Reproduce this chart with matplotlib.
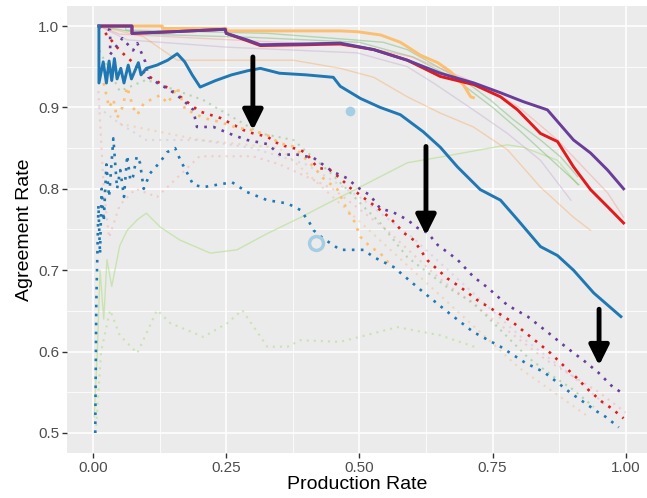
import matplotlib
matplotlib.use("Agg")
import matplotlib.pyplot as plt
from matplotlib.ticker import FixedLocator

plt.rcParams['font.family'] = ['Liberation Sans', 'DejaVu Sans']

# ---------------- data ----------------
x_ticks = [0.0, 0.25, 0.5, 0.75, 1.0]
x_tick_labels = ["0.00", "0.25", "0.50", "0.75", "1.00"]
y_ticks = [0.5, 0.6, 0.7, 0.8, 0.9, 1.0]
y_tick_labels = ["0.5", "0.6", "0.7", "0.8", "0.9", "1.0"]

# highlighted solid lines
blue_solid_x = [0.011, 0.011, 0.019, 0.025, 0.03, 0.035, 0.04, 0.045, 0.052, 0.058, 0.066, 0.072,
                0.085, 0.09, 0.1, 0.12, 0.14, 0.158, 0.172, 0.186, 0.201, 0.23, 0.26, 0.29, 0.314,
                0.35, 0.4, 0.451, 0.464, 0.502, 0.539, 0.577, 0.62, 0.652, 0.684, 0.727, 0.765,
                0.797, 0.84, 0.872, 0.902, 0.94, 0.991]
blue_solid_y = [1.0, 0.93, 0.956, 0.93, 0.957, 0.933, 0.96, 0.935, 0.948, 0.93, 0.952, 0.935,
                0.955, 0.94, 0.948, 0.952, 0.958, 0.966, 0.956, 0.94, 0.925, 0.933, 0.94, 0.945, 0.948,
                0.942, 0.94, 0.937, 0.926, 0.911, 0.90, 0.891, 0.87, 0.851, 0.827, 0.799, 0.786,
                0.762, 0.729, 0.718, 0.70, 0.672, 0.643]

purple_solid_x = [0.011, 0.073, 0.073, 0.15, 0.248, 0.25, 0.289, 0.314, 0.4, 0.464, 0.527, 0.59,
                  0.652, 0.715, 0.765, 0.808, 0.853, 0.902, 0.934, 0.966, 0.996]
purple_solid_y = [1.0, 1.0, 0.991, 0.993, 0.996, 0.991, 0.983, 0.977, 0.978, 0.979, 0.971, 0.958,
                  0.942, 0.930, 0.918, 0.907, 0.897, 0.860, 0.844, 0.823, 0.80]

red_solid_x = [0.011, 0.073, 0.073, 0.15, 0.248, 0.25, 0.289, 0.314, 0.4, 0.464, 0.527, 0.59,
               0.652, 0.715, 0.765, 0.797, 0.84, 0.872, 0.902, 0.934, 0.966, 0.996]
red_solid_y = [1.0, 1.0, 0.991, 0.993, 0.996, 0.991, 0.982, 0.976, 0.977, 0.978, 0.971, 0.958,
               0.938, 0.928, 0.913, 0.897, 0.868, 0.858, 0.827, 0.799, 0.778, 0.758]

orange_solid_x = [0.011, 0.13, 0.13, 0.25, 0.25, 0.464, 0.496, 0.54, 0.577, 0.615, 0.647, 0.671,
                  0.695, 0.709, 0.714]
orange_solid_y = [1.0, 1.0, 0.997, 0.997, 0.994, 0.994, 0.993, 0.989, 0.98, 0.964, 0.955, 0.944,
                  0.928, 0.913, 0.912]

# highlighted dotted lines
blue_dot_x = [0.004, 0.005, 0.006, 0.008, 0.01, 0.013, 0.016, 0.02, 0.025, 0.03, 0.038, 0.045,
              0.051, 0.058, 0.064, 0.07, 0.075, 0.082, 0.088, 0.095, 0.107, 0.115, 0.126, 0.139,
              0.154, 0.164, 0.177, 0.188, 0.207, 0.233, 0.261, 0.289, 0.327, 0.365, 0.389, 0.405,
              0.414, 0.43, 0.464, 0.508, 0.527, 0.564, 0.62, 0.665, 0.714, 0.765, 0.812, 0.846,
              0.872, 0.897, 0.921, 0.947, 0.962, 0.987]
blue_dot_y = [0.5, 0.58, 0.66, 0.72, 0.78, 0.72, 0.8, 0.76, 0.83, 0.79, 0.862, 0.80,
              0.823, 0.79, 0.841, 0.81, 0.815, 0.84, 0.832, 0.80, 0.819, 0.825, 0.833, 0.845,
              0.85, 0.835, 0.819, 0.805, 0.802, 0.805, 0.808, 0.796, 0.786, 0.782, 0.774, 0.76,
              0.749, 0.74, 0.725, 0.725, 0.716, 0.704, 0.673, 0.649, 0.624, 0.606, 0.586, 0.575,
              0.562, 0.549, 0.538, 0.526, 0.520, 0.507]

purple_dot_x = [0.012, 0.032, 0.032, 0.055, 0.075, 0.083, 0.098, 0.104, 0.126, 0.145, 0.169,
                0.188, 0.195, 0.226, 0.263, 0.289, 0.327, 0.351, 0.383, 0.414, 0.45, 0.477,
                0.496, 0.52, 0.539, 0.564, 0.59, 0.609, 0.628, 0.647, 0.684, 0.714, 0.74,
                0.778, 0.816, 0.853, 0.887, 0.925, 0.949, 0.975, 0.989]
purple_dot_y = [1.0, 0.995, 0.965, 0.985, 0.97, 0.979, 0.956, 0.937, 0.928, 0.921, 0.909,
                0.897, 0.876, 0.876, 0.866, 0.860, 0.855, 0.842, 0.842, 0.838, 0.821, 0.813,
                0.802, 0.792, 0.776, 0.771, 0.762, 0.752, 0.746, 0.731, 0.713, 0.692, 0.679,
                0.657, 0.643, 0.624, 0.606, 0.587, 0.574, 0.557, 0.551]

red_dot_x = [0.012, 0.05, 0.1, 0.15, 0.2, 0.239, 0.289, 0.327, 0.351, 0.389, 0.402, 0.421,
             0.445, 0.464, 0.483, 0.496, 0.508, 0.539, 0.558, 0.583, 0.602, 0.628, 0.665, 0.69,
             0.722, 0.752, 0.79, 0.812, 0.835, 0.859, 0.883, 0.906, 0.93, 0.956, 0.972, 0.985,
             0.996]
red_dot_y = [1.0, 0.97, 0.94, 0.92, 0.895, 0.887, 0.87, 0.864, 0.854, 0.848, 0.842, 0.826,
             0.823, 0.813, 0.801, 0.795, 0.789, 0.774, 0.764, 0.746, 0.737, 0.712, 0.69, 0.679,
             0.663, 0.651, 0.635, 0.623, 0.611, 0.598, 0.583, 0.569, 0.553, 0.538, 0.531, 0.524,
             0.518]

orange_dot_x = [0.02, 0.03, 0.038, 0.045, 0.055, 0.064, 0.075, 0.083, 0.095, 0.11, 0.126, 0.14,
                0.158, 0.173, 0.19, 0.207, 0.239, 0.27, 0.3, 0.33, 0.35, 0.376, 0.414, 0.432,
                0.459, 0.477, 0.489, 0.502, 0.52, 0.539, 0.555]
orange_dot_y = [0.93, 0.90, 0.91, 0.887, 0.90, 0.925, 0.90, 0.891, 0.905, 0.91, 0.915, 0.905,
                0.925, 0.897, 0.893, 0.887, 0.882, 0.875, 0.872, 0.865, 0.856, 0.852, 0.827, 0.813,
                0.799, 0.774, 0.762, 0.741, 0.729, 0.721, 0.709]

# faded background lines (solid)
green_solid_x = [0.011, 0.06, 0.062, 0.2, 0.327, 0.489, 0.545, 0.59, 0.652, 0.703, 0.746, 0.789,
                 0.84, 0.878, 0.91]
green_solid_y = [1.0, 1.0, 0.995, 0.993, 0.991, 0.983, 0.980, 0.971, 0.948, 0.93, 0.909, 0.885,
                 0.86, 0.839, 0.815]
green2_solid_x = [0.011, 0.1, 0.3, 0.5, 0.6, 0.68, 0.75, 0.8, 0.85, 0.912]
green2_solid_y = [1.0, 0.99, 0.986, 0.98, 0.962, 0.935, 0.90, 0.872, 0.842, 0.805]
pink_solid_x = [0.011, 0.05, 0.2, 0.35, 0.5, 0.6, 0.7, 0.75, 0.8, 0.872, 0.902, 0.966, 0.996]
pink_solid_y = [1.0, 0.99, 0.985, 0.98, 0.975, 0.962, 0.935, 0.92, 0.90, 0.86, 0.839, 0.795, 0.765]
lavender_solid_x = [0.011, 0.064, 0.252, 0.496, 0.59, 0.639, 0.714, 0.778, 0.84, 0.897]
lavender_solid_y = [1.0, 0.983, 0.974, 0.967, 0.95, 0.93, 0.897, 0.868, 0.835, 0.786]
peach_solid_x = [0.011, 0.094, 0.158, 0.289, 0.376, 0.464, 0.527, 0.59, 0.652, 0.714, 0.778,
                 0.84, 0.902, 0.934]
peach_solid_y = [1.0, 0.987, 0.958, 0.958, 0.958, 0.948, 0.937, 0.913, 0.893, 0.876, 0.848,
                 0.802, 0.765, 0.749]
lightgreen_solid_x = [0.002, 0.008, 0.013, 0.02, 0.026, 0.035, 0.05, 0.064, 0.083, 0.1, 0.126,
                      0.163, 0.22, 0.27, 0.327, 0.39, 0.44, 0.483, 0.59, 0.652, 0.778, 0.808,
                      0.872, 0.91]
lightgreen_solid_y = [0.52, 0.6, 0.70, 0.64, 0.713, 0.68, 0.73, 0.749, 0.762, 0.77, 0.753,
                      0.737, 0.721, 0.725, 0.745, 0.765, 0.782, 0.796, 0.832, 0.839, 0.854, 0.851,
                      0.835, 0.805]

# faded background lines (dotted)
lightgreen_dot_x = [0.005, 0.015, 0.032, 0.05, 0.083, 0.12, 0.145, 0.207, 0.252, 0.28, 0.327,
                    0.365, 0.389, 0.464, 0.571, 0.652, 0.72]
lightgreen_dot_y = [0.5, 0.6, 0.651, 0.62, 0.598, 0.651, 0.635, 0.618, 0.635, 0.651, 0.606,
                    0.606, 0.614, 0.612, 0.63, 0.62, 0.605]
green_dot_x = [0.012, 0.05, 0.1, 0.207, 0.314, 0.376, 0.402, 0.445, 0.477, 0.508, 0.539, 0.59,
               0.665, 0.714, 0.816, 0.865, 0.902, 0.94]
green_dot_y = [0.97, 0.92, 0.934, 0.909, 0.868, 0.86, 0.845, 0.82, 0.799, 0.778, 0.758, 0.716,
               0.679, 0.66, 0.593, 0.569, 0.553, 0.532]
pink_dot_x = [0.01, 0.02, 0.03, 0.05, 0.08, 0.12, 0.2, 0.3, 0.35, 0.45, 0.55, 0.65, 0.75, 0.85,
              0.95, 1.0]
pink_dot_y = [0.92, 0.8, 0.74, 0.78, 0.80, 0.79, 0.84, 0.84, 0.83, 0.80, 0.75, 0.69, 0.64, 0.59,
              0.55, 0.525]
peach_dot_x = [0.05, 0.2, 0.35, 0.45, 0.5, 0.6, 0.7, 0.8, 0.93]
peach_dot_y = [0.88, 0.86, 0.85, 0.79, 0.76, 0.70, 0.64, 0.58, 0.52]
lavender_dot_x = [0.01, 0.05, 0.1, 0.2, 0.3, 0.4, 0.5, 0.6, 0.7, 0.8, 0.9, 0.97]
lavender_dot_y = [0.9, 0.88, 0.86, 0.86, 0.85, 0.83, 0.79, 0.74, 0.68, 0.62, 0.57, 0.53]

# reference points and arrows
filled_point = ([0.483], [0.896])
hollow_point = ([0.419], [0.733])
arrow_x = [0.30, 0.625, 0.95]
arrow_y_from = [0.962, 0.852, 0.652]
arrow_y_to = [0.872, 0.743, 0.583]

# ---------------- figure ----------------
fig = plt.figure(figsize=(6.47, 4.98), dpi=100)
ax = fig.add_axes([67 / 647, 45 / 498, 1 - 67 / 647, (453 - 6) / 498])
ax.set_facecolor('#EBEBEB')
for s in ax.spines.values():
    s.set_visible(False)

ax.set_xlim(-0.049, 1.04)
ax.set_ylim(0.4754, 1.0246)

ax.xaxis.set_major_locator(FixedLocator(x_ticks))
ax.xaxis.set_minor_locator(FixedLocator([0.125, 0.375, 0.625, 0.875]))
ax.yaxis.set_major_locator(FixedLocator(y_ticks))
ax.yaxis.set_minor_locator(FixedLocator([0.55, 0.65, 0.75, 0.85, 0.95]))
ax.set_xticklabels(x_tick_labels)
ax.set_yticklabels(y_tick_labels)
ax.grid(which='major', color='white', lw=1.1)
ax.grid(which='minor', color='white', lw=0.55)
ax.set_axisbelow(True)
ax.tick_params(which='major', length=3.5, width=1.0, color='#333333', labelcolor='#4D4D4D',
               labelsize=11, pad=2)
ax.tick_params(which='minor', length=0)

ax.set_xlabel('Production Rate', fontsize=14, color='black', labelpad=1)
ax.set_ylabel('Agreement Rate', fontsize=14, color='black', labelpad=4)

dot = (0, (1, 2.4))
fa = 0.3
lw_hi = 2.1
lw_dot = 1.9

# faded lines
ax.plot(lightgreen_solid_x, lightgreen_solid_y, color='#B2DF8A', lw=1.0, alpha=0.6)
ax.plot(lightgreen_dot_x, lightgreen_dot_y, color='#B2DF8A', lw=1.5, ls=dot, alpha=0.6)
ax.plot(green_solid_x, green_solid_y, color='#33A02C', lw=1.0, alpha=fa)
ax.plot(green2_solid_x, green2_solid_y, color='#33A02C', lw=1.0, alpha=fa)
ax.plot(pink_solid_x, pink_solid_y, color='#FB9A99', lw=1.0, alpha=0.45)
ax.plot(lavender_solid_x, lavender_solid_y, color='#CAB2D6', lw=1.0, alpha=0.5)
ax.plot(peach_solid_x, peach_solid_y, color='#FF7F00', lw=1.0, alpha=0.25)
ax.plot(green_dot_x, green_dot_y, color='#33A02C', lw=1.5, ls=dot, alpha=fa)
ax.plot(pink_dot_x, pink_dot_y, color='#FB9A99', lw=1.5, ls=dot, alpha=0.4)
ax.plot(peach_dot_x, peach_dot_y, color='#FF7F00', lw=1.5, ls=dot, alpha=0.2)
ax.plot(lavender_dot_x, lavender_dot_y, color='#CAB2D6', lw=1.5, ls=dot, alpha=0.4)

# highlighted dotted
ax.plot(red_dot_x, red_dot_y, color='#E31A1C', lw=lw_dot, ls=dot)
ax.plot(orange_dot_x, orange_dot_y, color='#FDBF6F', lw=lw_dot, ls=dot)
ax.plot(purple_dot_x, purple_dot_y, color='#6A3D9A', lw=lw_dot, ls=dot)
ax.plot(blue_dot_x, blue_dot_y, color='#1F78B4', lw=lw_dot, ls=dot)

# highlighted solid
ax.plot(orange_solid_x, orange_solid_y, color='#FDBF6F', lw=lw_hi)
ax.plot(red_solid_x, red_solid_y, color='#E31A1C', lw=lw_hi)
ax.plot(purple_solid_x, purple_solid_y, color='#6A3D9A', lw=lw_hi)
ax.plot(blue_solid_x, blue_solid_y, color='#1F78B4', lw=lw_hi)

# reference points
ax.plot(*filled_point, 'o', color='#A6CEE3', ms=7, mec='none')
ax.plot(*hollow_point, 'o', mfc='none', mec='#A6CEE3', ms=10, mew=2.5)

# arrows
for xa, y0, y1 in zip(arrow_x, arrow_y_from, arrow_y_to):
    ax.annotate('', xy=(xa, y1), xytext=(xa, y0),
                arrowprops=dict(arrowstyle='-|>,head_length=0.6,head_width=0.3', lw=3.5,
                                color='black', shrinkA=0, shrinkB=0, mutation_scale=20))

fig.savefig('out.png', dpi=100)
